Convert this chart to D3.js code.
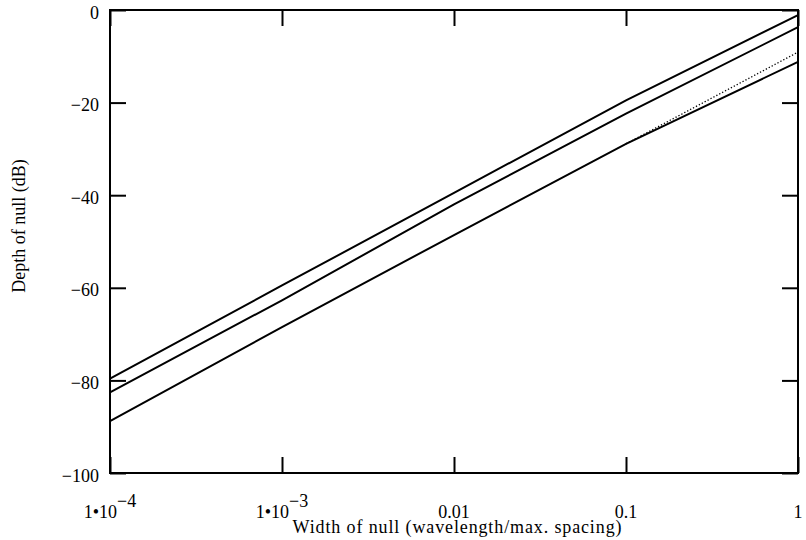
<!DOCTYPE html>
<html>
<head>
<meta charset="utf-8">
<script src="https://cdn.jsdelivr.net/npm/d3@7"></script>
<style>
  body { margin: 0; background: #fff; }
</style>
</head>
<body>
<div id="chart"></div>
<script>
// values (dB at each decade of null width)
var widths = [1e-4, 1e-3, 0.01, 0.1, 1];
var seriesTop = [-79.6, -59.5, -39.5, -19.5, -1.1];
var seriesMid = [-82.6, -62.7, -42.0, -22.4, -3.7];
var seriesLow = [-88.8, -68.5, -48.6, -28.9, -11.2];
var dottedWidths = [0.1, 1];
var dottedVals = [-28.9, -9.1];

var yTicks = [0, -20, -40, -60, -80, -100];
var yTickLabels = ["0", "\u221220", "\u221240", "\u221260", "\u221280", "\u2212100"];
// x tick labels: [main, superscript]
var xTickLabels = [["1\u202210", "\u22124"], ["1\u202210", "\u22123"], ["0.01", ""], ["0.1", ""], ["1", ""]];

var margin = {top: 10, right: 8, bottom: 67, left: 110},
    width = 806 - margin.left - margin.right,
    height = 540 - margin.top - margin.bottom;

var x = d3.scaleLog().domain([1e-4, 1]).range([0, width]);
var y = d3.scaleLinear().domain([-100, 0]).range([height, 0]);

var svg = d3.select("#chart").append("svg")
    .attr("width", 806)
    .attr("height", 540)
    .attr("font-family", "'Liberation Serif', 'Times New Roman', Times, 'DejaVu Serif', serif")
  .append("g")
    .attr("transform", "translate(" + margin.left + "," + margin.top + ")");

// inward ticks on all four sides
function tickStyle(g) {
  g.attr("font-family", null);
  g.select(".domain").remove();
  g.selectAll(".tick line").attr("stroke", "#000").attr("stroke-width", 2);
  g.selectAll(".tick text").remove();
}

svg.append("g")
    .attr("transform", "translate(0," + height + ")")
    .call(d3.axisBottom(x).tickValues(widths).tickSize(-16))
    .call(tickStyle);
svg.append("g")
    .call(d3.axisTop(x).tickValues(widths).tickSize(-16))
    .call(tickStyle);
svg.append("g")
    .call(d3.axisLeft(y).tickValues(yTicks).tickSize(-16))
    .call(tickStyle);
svg.append("g")
    .attr("transform", "translate(" + width + ",0)")
    .call(d3.axisRight(y).tickValues(yTicks).tickSize(-16))
    .call(tickStyle);

svg.append("rect")
    .attr("width", width)
    .attr("height", height)
    .attr("fill", "none")
    .attr("stroke", "#000")
    .attr("stroke-width", 2);

// y labels
svg.selectAll(".ylab").data(yTicks).enter().append("text")
    .attr("class", "ylab")
    .attr("x", -11)
    .attr("y", function(d) { return y(d) + 8.5; })
    .attr("text-anchor", "end")
    .style("font-size", "18px")
    .text(function(d, i) { return yTickLabels[i]; });

// x labels with superscripts
var xl = svg.selectAll(".xlab").data(widths).enter().append("text")
    .attr("class", "xlab")
    .attr("x", function(d) { return x(d); })
    .attr("y", height + 44.5)
    .attr("text-anchor", "middle")
    .style("font-size", "18px");
xl.append("tspan").text(function(d, i) { return xTickLabels[i][0]; });
xl.append("tspan")
    .attr("dy", -11)
    .text(function(d, i) { return xTickLabels[i][1]; });

// axis titles
svg.append("text")
    .attr("x", 347)
    .attr("y", height + 59.5)
    .attr("text-anchor", "middle")
    .attr("textLength", 329)
    .attr("lengthAdjust", "spacing")
    .style("font-size", "18px")
    .text("Width of null (wavelength/max. spacing)");

svg.append("text")
    .attr("transform", "translate(-85,216) rotate(-90)")
    .attr("text-anchor", "middle")
    .style("font-size", "18px")
    .text("Depth of null (dB)");

var line = d3.line()
    .x(function(d) { return x(d[0]); })
    .y(function(d) { return y(d[1]); });

[seriesTop, seriesMid, seriesLow].forEach(function(s) {
  svg.append("path")
      .datum(d3.zip(widths, s))
      .attr("d", line)
      .attr("fill", "none")
      .attr("stroke", "#000")
      .attr("stroke-width", 2);
});

svg.append("path")
    .datum(d3.zip(dottedWidths, dottedVals))
    .attr("d", line)
    .attr("fill", "none")
    .attr("stroke", "#000")
    .attr("stroke-width", 1.3)
    .attr("stroke-dasharray", "1.3,2");
</script>
</body>
</html>
